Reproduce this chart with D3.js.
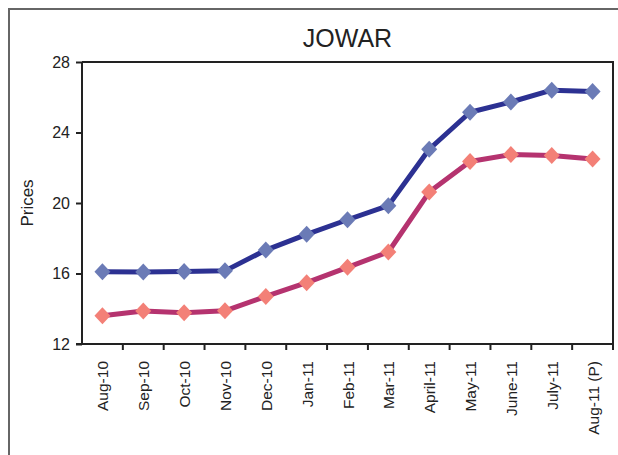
<!DOCTYPE html>
<html>
<head>
<meta charset="utf-8">
<script src="https://cdn.jsdelivr.net/npm/d3@7"></script>
<style>
html,body{margin:0;padding:0;background:#fff;}
svg{display:block;font-family:"Liberation Sans",Arial,sans-serif;}
</style>
</head>
<body>
<svg id="chart" width="618" height="455"></svg>
<script>
const categories = ["Aug-10","Sep-10","Oct-10","Nov-10","Dec-10","Jan-11","Feb-11","Mar-11","April-11","May-11","June-11","July-11","Aug-11 (P)"];
const seriesBlue = [16.1,16.08,16.12,16.15,17.33,18.22,19.05,19.85,23.05,25.15,25.73,26.4,26.33];
const seriesRed = [13.6,13.87,13.78,13.88,14.7,15.48,16.35,17.22,20.62,22.35,22.75,22.7,22.5];
const yTicks = [12,16,20,24,28];

const svg = d3.select("#chart");
const m = {left:82, right:613, top:62, bottom:344};

// outer frame
svg.append("rect").attr("x",9).attr("y",9).attr("width",640).attr("height",480)
  .attr("fill","none").attr("stroke","#666").attr("stroke-width",2);

const x = d3.scaleBand().domain(categories).range([m.left,m.right]).padding(0);
const y = d3.scaleLinear().domain([12,28]).range([m.bottom,m.top]);

// plot border (top & right)
svg.append("path").attr("d",`M${m.left},${m.top}H${m.right}V${m.bottom}`)
  .attr("fill","none").attr("stroke","#222").attr("stroke-width",2);

// y axis
const yAxis = svg.append("g").attr("transform",`translate(${m.left},0)`)
  .call(d3.axisLeft(y).tickValues(yTicks).tickSize(6).tickPadding(6).tickFormat(d3.format("d")));
yAxis.select(".domain").attr("stroke","#222").attr("stroke-width",2).attr("d",`M0,${m.top}V${m.bottom}`);
yAxis.selectAll(".tick line").attr("stroke","#222").attr("stroke-width",2);
yAxis.selectAll(".tick text").attr("font-size",16).attr("fill","#222").attr("font-family","Liberation Sans, Arial, sans-serif");

// x axis with ticks at band boundaries
const xg = svg.append("g").attr("transform",`translate(0,${m.bottom})`);
xg.append("line").attr("x1",m.left-6).attr("x2",m.right).attr("stroke","#222").attr("stroke-width",2);
const bounds = categories.map(c=>x(c)).concat([m.right]);
xg.selectAll("line.tk").data(bounds.slice(1)).join("line").attr("class","tk")
  .attr("x1",d=>d).attr("x2",d=>d).attr("y1",0).attr("y2",6).attr("stroke","#222").attr("stroke-width",2);
xg.selectAll("text").data(categories).join("text")
  .attr("transform",d=>`translate(${x(d)+x.bandwidth()/2+6},17) rotate(-90)`)
  .attr("text-anchor","end").attr("font-size",15.5).attr("fill","#222").text(d=>d);

// title
svg.append("text").attr("x",(m.left+m.right)/2).attr("y",47).attr("text-anchor","middle")
  .attr("font-size",25).attr("fill","#222").text("JOWAR");

// y label
svg.append("text").attr("transform",`translate(33,203) rotate(-90)`).attr("text-anchor","middle")
  .attr("font-size",17).attr("fill","#222").text("Prices");

const line = d3.line().x((d,i)=>x(categories[i])+x.bandwidth()/2).y(d=>y(d));
const diamondPath = "M0,-8.5L8,0L0,8.5L-8,0Z";

function drawSeries(vals, lineColor, markerColor){
  svg.append("path").datum(vals).attr("d",line).attr("fill","none")
    .attr("stroke",lineColor).attr("stroke-width",5).attr("stroke-linejoin","round");
  svg.append("g").selectAll("path").data(vals).join("path")
    .attr("d",diamondPath)
    .attr("transform",(d,i)=>`translate(${x(categories[i])+x.bandwidth()/2},${y(d)})`)
    .attr("fill",markerColor);
}
drawSeries(seriesRed, "#b5336f", "#f38077");
drawSeries(seriesBlue, "#2c3192", "#6b7bb6");
</script>
</body>
</html>
